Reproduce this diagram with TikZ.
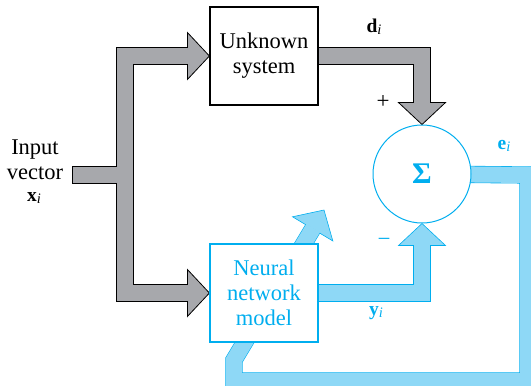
\documentclass[tikz,border=0pt]{standalone}
\usepackage{fontspec}
\setmainfont{Liberation Serif}
\usetikzlibrary{backgrounds}

\definecolor{pipegrey}{RGB}{167,168,172}
\definecolor{nncyan}{RGB}{0,174,239}
\definecolor{nnlight}{RGB}{142,216,246}

% head of a block arrow: style, tip, angle
\newcommand\blockhead[3]{\filldraw[#1,shift={#2},rotate=#3] (0,0) -- (-22,23.5) -- (-22,-23.5) -- cycle;}
% bold vector with italic index
\newcommand\vlab[1]{\textbf{#1}\raisebox{-2pt}{\fontsize{14.5}{14.5}\selectfont\itshape i}}

\tikzset{
  bodytext/.style={font=\fontsize{22.5}{25}\selectfont, align=center},
  labeltext/.style={font=\fontsize{19.5}{19.5}\selectfont},
  signtext/.style={font=\fontsize{23}{23}\selectfont},
  blockbox/.style={bodytext, draw, line width=1.2pt, fill=white, minimum width=108pt, minimum height=98pt, inner sep=0pt},
  greyedge/.style={draw=black, line width=17.6pt, line join=miter},
  greybody/.style={draw=pipegrey, line width=16pt, line join=miter},
  greyhead/.style={fill=pipegrey, draw=black, line width=0.8pt, line join=miter},
  cyanedge/.style={draw=nncyan, line width=17.2pt, line join=miter},
  cyanbody/.style={draw=nnlight, line width=16pt, line join=miter},
  cyanhead/.style={fill=nnlight, draw=nncyan, line width=0.6pt, line join=miter},
}

\begin{document}
\begin{tikzpicture}[x=1pt, y=-1pt]
		\useasboundingbox (0,0) rectangle (531,386);
		
		% Unknown system
		\node[blockbox] (sys) at (264,56) {Unknown\\system};
		
		% Neural network model
		\node[blockbox, draw=nncyan, text=nncyan] (nn) at (264,293) {Neural\\network\\model};
		
		% Summing point
		\node[circle, draw=nncyan, line width=1pt, fill=white, minimum size=98pt, inner sep=0pt, text=nncyan, font=\fontsize{30}{30}\selectfont\bfseries] (sum) at (422,174) {Σ};
		
		% Input
		\node[bodytext] (inp) at (35,160) {Input\\vector};
		\node[labeltext] (xlab) at (34,198) {\vlab{x}};
		\coordinate (xin) at (72,175);
		\coordinate (adj) at (324,210);
		
		% Labels
		\node[labeltext] (dlab) at (374,27) {\vlab{d}};
		\node[signtext] (plus) at (383,102) {+};
		\node[signtext, text=nncyan] (minus) at (384,242) {−};
		\node[labeltext, text=nncyan] (elab) at (504,146) {\vlab{e}};
		\node[labeltext, text=nncyan] (ylab) at (376,313) {\vlab{y}};
		
		\begin{scope}[on background layer]
			\clip (0,0) rectangle (531,386);
			
			% Grey arrows, outline
			\draw[greyedge] (xin) -- (125,175);
			\draw[greyedge] (189,56) -- (125,56) -- (125,293) -- (189,293);
			\draw[greyedge] (sys.center) -- (422,56) -- (422,104);
			\blockhead{greyhead}{(sum.north)}{-90}
			\blockhead{greyhead}{(sys.west)}{0}
			\blockhead{greyhead}{(nn.west)}{0}
			% Grey arrows, fill
			\draw[greybody, shorten <=0.8pt] (xin) -- (125,175);
			\draw[greybody] (189,56) -- (125,56) -- (125,293) -- (189,293);
			\draw[greybody] (sys.center) -- (422,56) -- (422,104);
			
			% Cyan arrows, outline
			\draw[cyanedge] (nn.center) -- (422,293) -- (422,244);
			\draw[cyanedge] (sum.center) -- (528,175) -- (528,381) -- (234,381) -- (234,360) -- (313.2,228);
			\blockhead{cyanhead}{(sum.south)}{90}
			\blockhead{cyanhead}{(adj)}{59.04}
			% Cyan arrows, fill
			\draw[cyanbody] (nn.center) -- (422,293) -- (422,244);
			\draw[cyanbody] (sum.center) -- (528,175) -- (528,381) -- (234,381) -- (234,360) -- (313.2,228);
		\end{scope}
	\end{tikzpicture}
\end{document}
